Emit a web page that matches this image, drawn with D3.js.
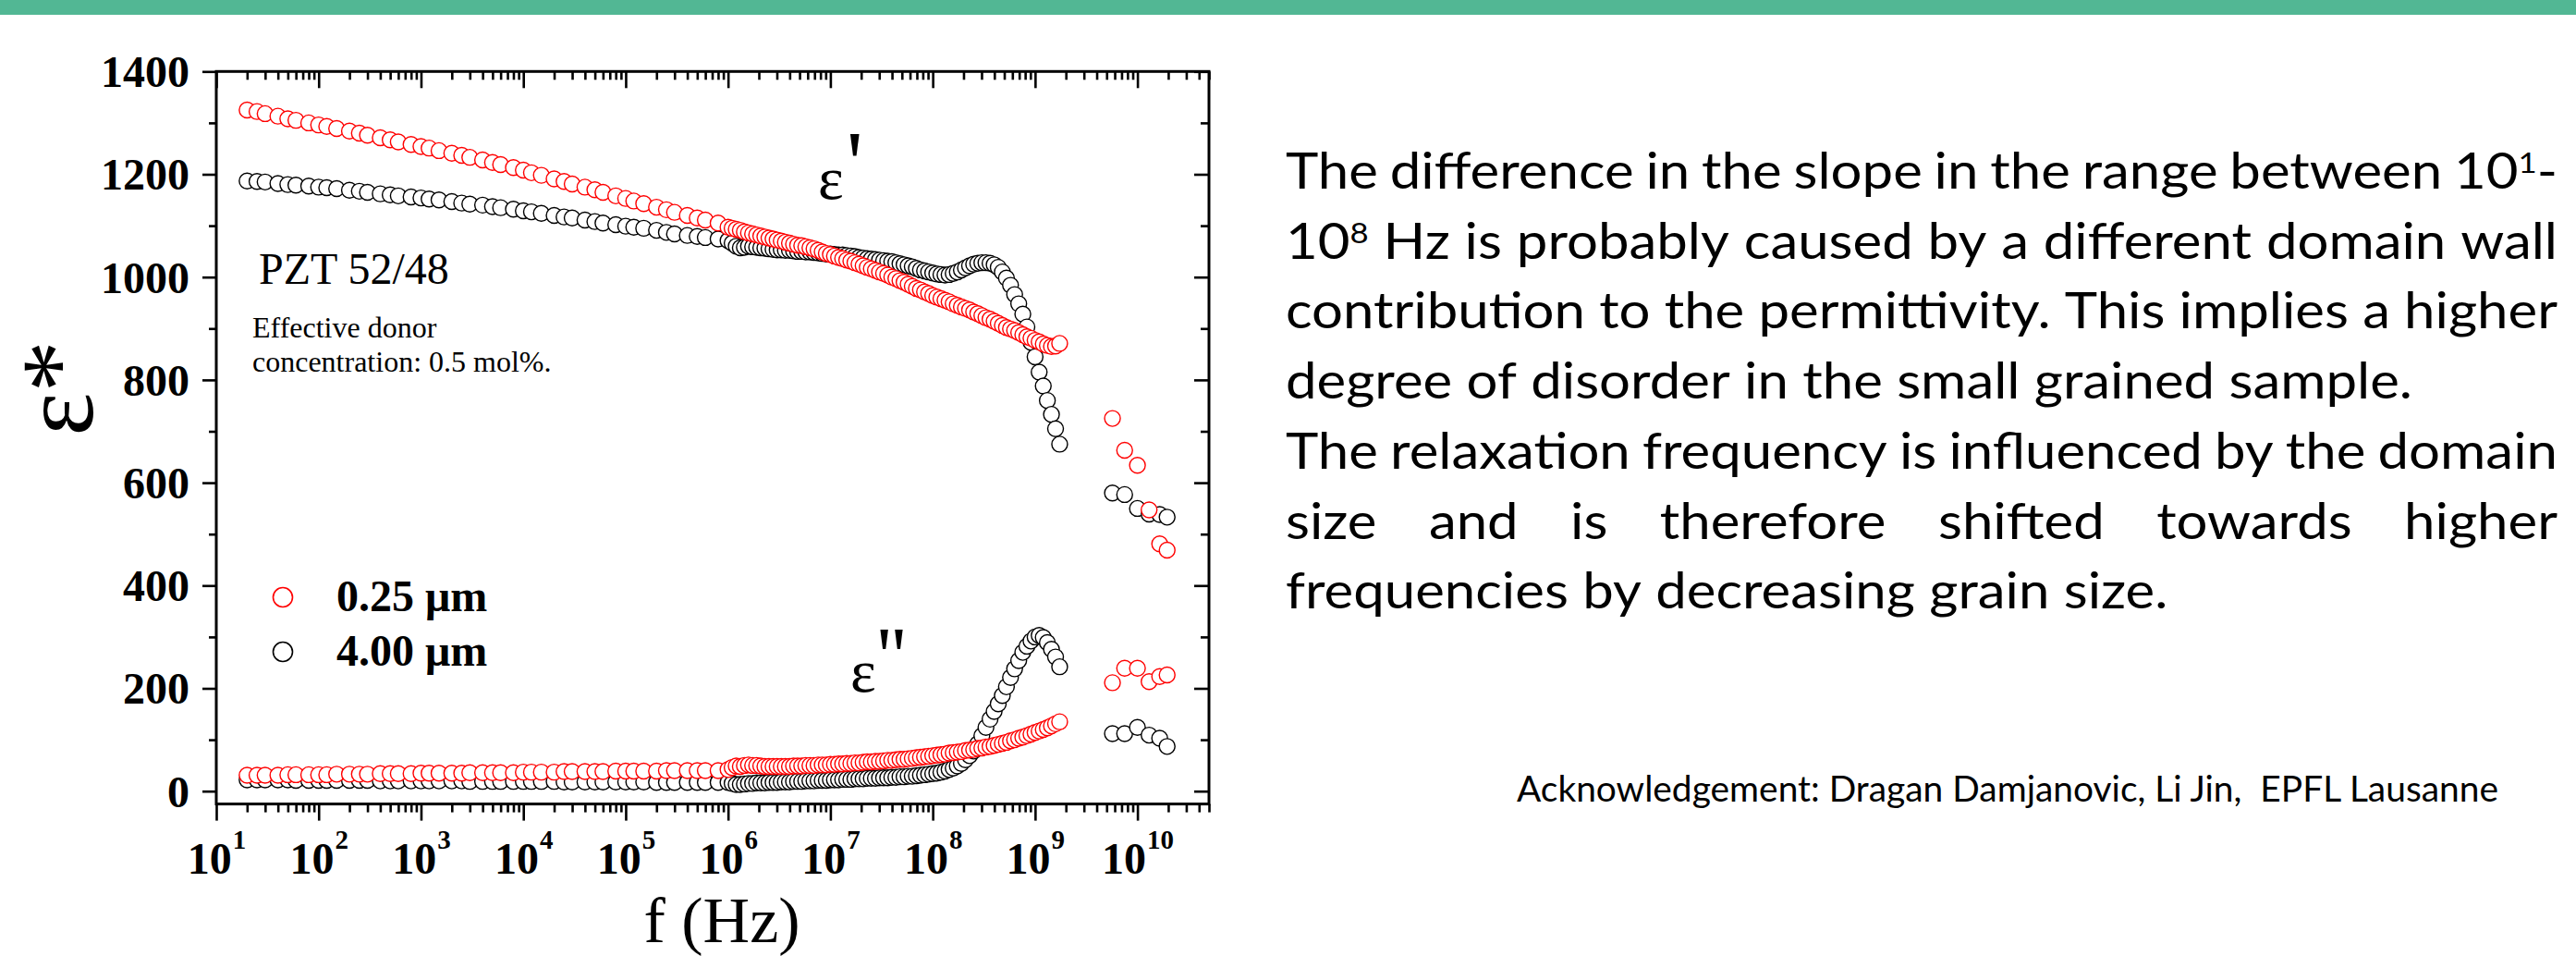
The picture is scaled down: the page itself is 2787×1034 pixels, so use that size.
<!DOCTYPE html>
<html><head><meta charset="utf-8">
<script src="https://cdn.jsdelivr.net/npm/d3@7"></script>
<style>
html,body{margin:0;padding:0;background:#fff;}
svg{display:block;}
</style></head><body>
<svg id="c" width="2787" height="1034"></svg>
<script>
// ---------------- DATA ----------------
const freqHz = [
  20,25,30,40,50,60,80,
  100,120,150,200,250,300,400,500,600,800,
  1e3,1.2e3,1.5e3,2e3,2.5e3,3e3,4e3,5e3,6e3,8e3,
  1e4,1.2e4,1.5e4,2e4,2.5e4,3e4,4e4,5e4,6e4,8e4,
  1e5,1.2e5,1.5e5,2e5,2.5e5,3e5,4e5,5e5,6e5,8e5,
  1.000e6,1.096e6,1.202e6,1.318e6,1.445e6,1.585e6,1.738e6,1.905e6,2.089e6,2.291e6,2.512e6,2.754e6,3.020e6,3.311e6,3.631e6,3.981e6,4.365e6,4.786e6,5.248e6,5.754e6,6.310e6,6.918e6,7.586e6,8.318e6,9.120e6,
  1.000e7,1.096e7,1.202e7,1.318e7,1.445e7,1.585e7,1.738e7,1.905e7,2.089e7,2.291e7,2.512e7,2.754e7,3.020e7,3.311e7,3.631e7,3.981e7,4.365e7,4.786e7,5.248e7,5.754e7,6.310e7,6.918e7,7.586e7,8.318e7,9.120e7,
  1.000e8,1.096e8,1.202e8,1.318e8,1.445e8,1.585e8,1.738e8,1.905e8,2.089e8,2.291e8,2.512e8,2.754e8,3.020e8,3.311e8,3.631e8,3.981e8,4.365e8,4.786e8,5.248e8,5.754e8,6.310e8,6.918e8,7.586e8,8.318e8,9.120e8,
  1.000e9,1.096e9,1.202e9,1.318e9,1.445e9,1.585e9,1.738e9,
  5.7e9,7.5e9,1.0e10,1.3e10,1.65e10,1.95e10
];
// eps' , grain size 0.25 um (red)
const epsReal025 = [
  1325,1322,1318,1313,1308,1305,1300,
  1296,1293,1289,1284,1280,1276,1271,1267,1263,1258,
  1254,1251,1246,1241,1237,1233,1228,1223,1219,1213,
  1208,1203,1198,1191,1186,1181,1175,1170,1165,1158,
  1153,1148,1143,1136,1131,1126,1120,1115,1111,1105,
  1097,1095,1093,1091,1088,1086,1084,1082,1080,1078,1076,1074,1072,1070,1068,1066,1064,1062,1061,1059,1057,1055,1052,1049,1046,
  1044,1041,1038,1036,1033,1031,1028,1025,1022,1019,1016,1013,1010,1007,1004,1000,997,993,990,986,982,978,975,971,968,
  964,961,958,955,952,948,945,942,939,936,932,929,925,921,918,914,910,906,902,899,896,892,888,884,881,
  877,874,870,867,865,866,871,
  725,663,634,547,481,469
];
// eps' , grain size 4.00 um (black)
const epsReal400 = [
  1187,1186,1185,1182,1180,1179,1177,
  1175,1174,1172,1169,1167,1165,1162,1160,1158,1156,
  1154,1152,1150,1147,1144,1142,1140,1137,1135,1132,
  1129,1127,1124,1120,1117,1115,1111,1108,1105,1102,
  1099,1097,1095,1091,1087,1084,1081,1079,1077,1074,
  1071,1066,1060,1057,1058,1060,1059,1058,1057,1056,1055,1054,1053,1053,1052,1052,1051,1050,1050,1049,1049,1048,1047,1046,1045,
  1045,1044,1043,1043,1042,1041,1040,1038,1037,1036,1035,1034,1033,1032,1031,1030,1028,1026,1024,1022,1020,1017,1014,1012,1010,
  1008,1006,1005,1004,1005,1007,1010,1014,1018,1022,1025,1027,1028,1028,1027,1024,1019,1010,998,984,966,948,928,903,873,
  845,815,788,760,733,705,675,
  580,577,550,539,538,533
];
// eps'' , grain size 0.25 um (red)
const epsImag025 = [
  31,31,31,31,32,32,32,
  32,32,33,33,33,33,34,34,34,34,
  35,35,35,35,35,36,36,36,36,36,
  37,37,37,37,38,38,38,38,38,39,
  39,39,39,39,40,40,40,40,40,40,
  42,46,49,48,50,51,50,50,49,48,48,48,48,48,48,48,49,49,49,50,50,50,51,51,51,
  52,52,53,53,54,54,55,55,56,57,57,58,58,59,60,60,61,62,62,63,64,65,66,67,68,
  69,70,71,72,74,75,76,77,79,80,81,83,84,86,87,89,91,93,95,98,100,103,105,108,111,
  114,117,120,123,127,131,135,
  211,239,239,213,223,226
];
// eps'' , grain size 4.00 um (black)
const epsImag400 = [
  22,22,22,22,22,21,21,
  21,21,21,21,21,21,20,20,20,20,
  20,20,20,20,20,19,19,19,19,19,
  19,19,19,19,18,18,18,18,18,18,
  18,18,18,17,17,17,17,17,17,17,
  17,15,13,13,14,15,15,16,16,16,17,17,17,18,18,18,19,19,19,20,20,20,21,21,21,
  22,22,22,23,23,23,24,24,24,25,25,25,26,26,26,27,27,28,28,29,29,30,31,32,33,
  34,35,37,39,42,45,49,54,61,69,78,92,108,124,140,155,170,186,203,221,238,254,270,282,292,
  300,303,299,289,276,261,242,
  112,112,124,109,103,87
];
const yMajorTicks = [0,200,400,600,800,1000,1200,1400];
const yMinorTicks = [100,300,500,700,900,1100,1300];
const xDecadeExps = [1,2,3,4,5,6,7,8,9,10];
const legendLabels = ["0.25 \u03bcm", "4.00 \u03bcm"];
const legendColors = ["#ff0000", "#000000"];
const noteLines = [
  "The difference in the slope in the range between 10{1}-",
  "10{8} Hz is probably caused by a different domain wall",
  "contribution to the permittivity. This implies a higher",
  "degree of disorder in the small grained sample.",
  "The relaxation frequency is influenced by the domain",
  "size and is therefore shifted towards higher",
  "frequencies by decreasing grain size."
];
const noteJustify = [true,true,true,false,true,true,false];
const ackText = "Acknowledgement: Dragan Damjanovic, Li Jin,  EPFL Lausanne";

// ---------------- LAYOUT ----------------
const W = 2787, H = 1034;
const P = {left:234, right:1308, top:77.3, bottom:869.6};
const serif = "'Liberation Serif','Times New Roman',serif";
const svg = d3.select("#c");

svg.append("rect").attr("x",0).attr("y",0).attr("width",W).attr("height",16).attr("fill","#52b794");

const x = d3.scaleLog().domain([10, 5e10]).range([P.left, P.right]);
const y = d3.scaleLinear().domain([-25, 1400]).range([P.bottom, P.top]);

const xMajor = xDecadeExps.map(e => Math.pow(10, e));
const xMinor = [];
xDecadeExps.forEach(e => { for (let m = 2; m <= 9; m++) { const v = m * Math.pow(10, e); if (v <= 5e10) xMinor.push(v); } });

function styleAxis(g){
  g.select(".domain").remove();
  g.selectAll("line").attr("stroke","#000").attr("stroke-width",2.6);
}
// bottom axis (outward ticks)
svg.append("g").attr("transform",`translate(0,${P.bottom})`)
  .call(d3.axisBottom(x).tickValues(xMinor).tickSize(9).tickFormat(()=>"")).call(styleAxis)
  .call(g=>g.selectAll("text").remove());
const xb = svg.append("g").attr("transform",`translate(0,${P.bottom})`)
  .call(d3.axisBottom(x).tickValues(xMajor).tickSize(18).tickFormat(()=>"")).call(styleAxis)
  .call(g=>g.selectAll("text").remove());
xb.selectAll(".tick").each(function(d){
  const e = Math.round(Math.log10(d));
  const t = d3.select(this).append("text")
    .attr("y", 75.4).attr("text-anchor","middle")
    .attr("font-family", serif).attr("font-weight","bold").attr("font-size",48).attr("fill","#000");
  t.append("tspan").text("10");
  t.append("tspan").attr("font-size",29).attr("dx",1).attr("dy",-27).text(String(e));
});
// top axis (inward ticks)
svg.append("g").attr("transform",`translate(0,${P.top})`)
  .call(d3.axisTop(x).tickValues(xMinor).tickSize(-9).tickFormat(()=>"")).call(styleAxis)
  .call(g=>g.selectAll("text").remove());
svg.append("g").attr("transform",`translate(0,${P.top})`)
  .call(d3.axisTop(x).tickValues(xMajor).tickSize(-18).tickFormat(()=>"")).call(styleAxis)
  .call(g=>g.selectAll("text").remove());
// left axis (outward)
svg.append("g").attr("transform",`translate(${P.left},0)`)
  .call(d3.axisLeft(y).tickValues(yMinorTicks).tickSize(8).tickFormat(()=>"")).call(styleAxis)
  .call(g=>g.selectAll("text").remove());
svg.append("g").attr("transform",`translate(${P.left},0)`)
  .call(d3.axisLeft(y).tickValues(yMajorTicks).tickSize(15).tickPadding(14).tickFormat(d3.format("d")))
  .call(styleAxis)
  .call(g=>g.selectAll("text").attr("font-family",serif).attr("font-weight","bold")
        .attr("font-size",48).attr("fill","#000").attr("dy","0.34em"));
// right axis (inward)
svg.append("g").attr("transform",`translate(${P.right},0)`)
  .call(d3.axisRight(y).tickValues(yMinorTicks).tickSize(-9).tickFormat(()=>"")).call(styleAxis)
  .call(g=>g.selectAll("text").remove());
svg.append("g").attr("transform",`translate(${P.right},0)`)
  .call(d3.axisRight(y).tickValues(yMajorTicks).tickSize(-16).tickFormat(()=>"")).call(styleAxis)
  .call(g=>g.selectAll("text").remove());

// frame
svg.append("rect").attr("x",P.left).attr("y",P.top).attr("width",P.right-P.left).attr("height",P.bottom-P.top)
  .attr("fill","none").attr("stroke","#000").attr("stroke-width",3);

// data series
const series = [
  {vals: epsImag400, color: legendColors[1]},
  {vals: epsReal400, color: legendColors[1]},
  {vals: epsImag025, color: legendColors[0]},
  {vals: epsReal025, color: legendColors[0]}
];
series.forEach(s => {
  svg.append("g").selectAll("circle")
    .data(freqHz.map((f,i)=>({f, v:s.vals[i]})))
    .join("circle")
    .attr("cx", d=>x(d.f)).attr("cy", d=>y(d.v)).attr("r", 8.5)
    .attr("fill","#fff").attr("stroke", s.color).attr("stroke-width",1.4);
});

// in-plot annotations
const ann = svg.append("g").attr("font-family", serif).attr("fill","#000");
ann.append("text").attr("x",280).attr("y",307).attr("font-size",48).text("PZT 52/48");
ann.append("text").attr("x",273).attr("y",365).attr("font-size",32).text("Effective donor");
ann.append("text").attr("x",273).attr("y",402).attr("font-size",32).text("concentration: 0.5 mol%.");
const e1 = ann.append("text").attr("x",885).attr("y",215);
e1.append("tspan").attr("font-size",66).text("\u03b5");
e1.append("tspan").attr("font-size",100).attr("dx",3).attr("dy",-5).text("'");
const e2 = ann.append("text").attr("x",920).attr("y",748);
e2.append("tspan").attr("font-size",66).text("\u03b5");
e2.append("tspan").attr("font-size",88).attr("dx",1).attr("dy",-9).text("''");

// legend
legendLabels.forEach((lab,i)=>{
  const ly = 646 + i*59;
  svg.append("circle").attr("cx",306).attr("cy",ly).attr("r",10.5)
    .attr("fill","#fff").attr("stroke",legendColors[i]).attr("stroke-width",1.6);
  svg.append("text").attr("x",364).attr("y",ly+15).attr("font-family",serif)
    .attr("font-weight","bold").attr("font-size",48).attr("fill","#000").text(lab);
});

// axis titles
svg.append("text").attr("transform","translate(100,420) rotate(-90)")
  .attr("text-anchor","middle").attr("font-family",serif).attr("font-size",112).attr("fill","#000")
  .text("\u03b5*");
svg.append("text").attr("x",781).attr("y",1018.5).attr("text-anchor","middle")
  .attr("font-family",serif).attr("font-size",70).attr("fill","#000").text("f (Hz)");

// note text (justified)
const noteFont = "Lato,'Open Sans',sans-serif";
const fs = 54;
const noteG = svg.append("g").attr("font-family",noteFont).attr("font-size",fs).attr("fill","#000");
const baselines = [204,280,355.5,431,507,583,658];
function addWord(parent, word){
  const t = parent.append("text");
  const parts = word.split(/(\{[^}]*\})/).filter(p=>p.length);
  let sup = false;
  parts.forEach(p=>{
    if (p[0] === "{") { t.append("tspan").attr("font-size", fs*0.58).attr("dy", -17).text(p.slice(1,-1)); sup = true; }
    else { const ts = t.append("tspan").text(p); if (sup) { ts.attr("dy", 17); sup = false; } }
  });
  return t;
}
const tmpA = noteG.append("text").text("a a"), tmpB = noteG.append("text").text("aa");
const spaceW = tmpA.node().getComputedTextLength() - tmpB.node().getComputedTextLength();
tmpA.remove(); tmpB.remove();
const lineData = noteLines.map((ln,i)=>{
  const words = ln.split(" ").map(w => { const t = addWord(noteG, w).attr("y", baselines[i]); return {t, w: t.node().getComputedTextLength()}; });
  return {words, sum: d3.sum(words, d=>d.w)};
});
const L4 = lineData[3];
const k = 1219 / (L4.sum + spaceW*(L4.words.length-1));
const target = (2767 - 1391) / k;
lineData.forEach((L,i)=>{
  const n = L.words.length;
  const gap = noteJustify[i] ? (target - L.sum)/(n-1) : spaceW;
  let cx = 0;
  L.words.forEach(wd => { wd.t.attr("x", cx); cx += wd.w + gap; });
});
noteG.attr("transform", `translate(1391,0) scale(${k},1)`);

// acknowledgement
svg.append("text").attr("x",1641).attr("y",867).attr("font-family",noteFont).attr("font-size",38)
  .attr("fill","#000").style("white-space","pre")
  .attr("textLength",1062).attr("lengthAdjust","spacingAndGlyphs").text(ackText);
</script>
</body></html>
